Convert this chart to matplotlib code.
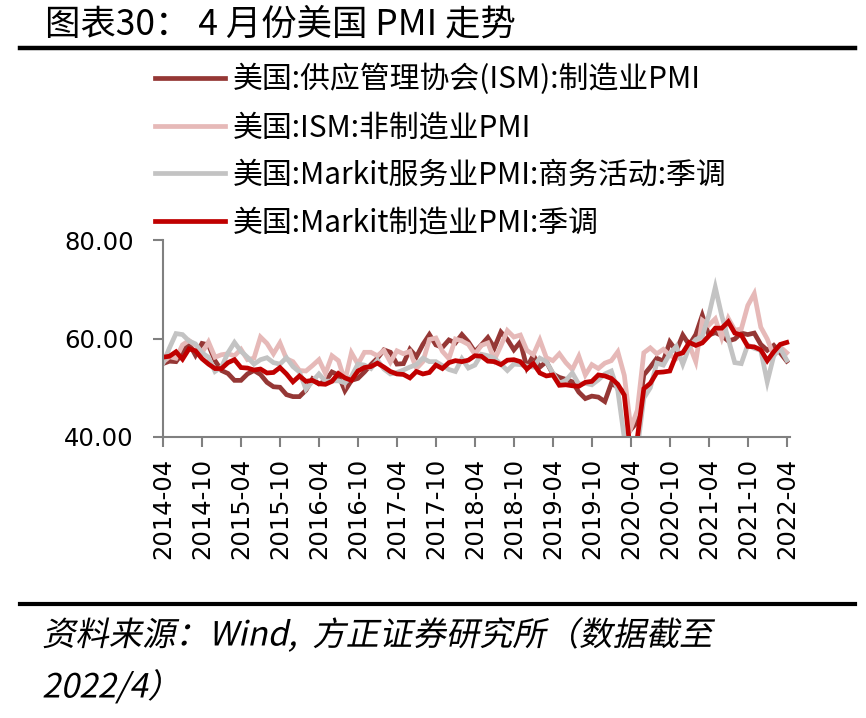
import matplotlib
matplotlib.use('Agg')
import matplotlib.pyplot as plt
from matplotlib.lines import Line2D
from matplotlib.patheffects import AbstractPathEffect
from matplotlib.transforms import Affine2D

plt.rcParams['font.family'] = ['Noto Sans CJK SC', 'DejaVu Sans']

# monthly, 2014-04 .. 2022-04
start_year, start_month = 2014, 4
ism_mfg = [
    54.9, 55.4, 55.3, 57.1, 59.0, 56.6, 59.0, 58.7, 55.5,
    53.5, 52.9, 51.5, 51.5, 52.8, 53.5, 52.7, 51.1, 50.2, 50.1, 48.6, 48.2,
    48.2, 49.5, 51.8, 50.8, 51.3, 53.2, 52.6, 49.4, 51.5, 51.9, 53.2, 54.7,
    56.0, 57.7, 57.2, 54.8, 54.9, 57.8, 56.3, 58.8, 60.8, 58.7, 58.2, 59.7,
    59.1, 60.8, 59.3, 57.3, 58.7, 60.2, 58.1, 61.3, 59.8, 57.7, 59.3, 54.1,
    56.6, 54.2, 55.3, 52.8, 52.1, 51.7, 51.2, 49.1, 47.8, 48.3, 48.1, 47.2,
    50.9, 50.1, 49.1, 41.5, 43.1, 52.6, 54.2, 56.0, 55.4, 59.3, 57.5, 60.7,
    58.7, 60.8, 64.7, 60.7, 61.2, 60.6, 59.5, 59.9, 61.1, 60.8, 61.1, 58.8,
    57.6, 58.6, 57.1, 55.4,
]
ism_nonmfg = [
    55.2, 56.3, 56.0, 58.7, 59.6, 58.6, 57.1, 59.3, 56.2,
    56.7, 56.9, 56.5, 57.8, 55.7, 56.0, 60.3, 59.0, 56.9, 59.1, 55.9, 55.3,
    53.5, 53.4, 54.5, 55.7, 52.9, 56.5, 55.5, 51.4, 57.1, 54.8, 57.2, 57.2,
    56.5, 57.6, 55.2, 57.5, 56.9, 57.4, 53.9, 55.3, 59.8, 60.1, 57.4, 55.9,
    59.9, 59.5, 58.8, 56.8, 58.6, 59.1, 55.7, 58.5, 61.6, 60.3, 60.7, 57.6,
    56.7, 59.7, 56.1, 55.5, 56.9, 55.1, 53.7, 56.4, 52.6, 54.7, 53.9, 55.0,
    55.5, 57.3, 52.5, 41.8, 45.4, 57.1, 58.1, 56.9, 57.8, 56.6, 55.9, 57.2,
    58.7, 55.3, 63.7, 62.7, 64.0, 60.1, 64.1, 61.7, 61.9, 66.7, 69.1, 62.3,
    59.9, 56.5, 58.3, 57.1,
]
markit_services = [
    55.0, 58.1, 61.0, 60.8, 59.5, 58.9, 57.1, 56.2, 53.3,
    54.2, 57.1, 59.2, 57.4, 56.2, 54.8, 55.7, 56.1, 55.1, 54.8, 56.1, 54.3,
    53.2, 49.7, 51.3, 52.8, 51.3, 51.4, 51.4, 51.0, 52.3, 54.8, 54.6, 53.9,
    55.6, 53.8, 52.8, 53.1, 53.6, 54.2, 54.7, 56.0, 55.3, 55.3, 54.5, 53.7,
    53.3, 55.9, 54.0, 54.6, 56.8, 56.5, 56.0, 54.8, 53.5, 54.8, 54.7, 54.4,
    54.2, 56.0, 55.3, 53.0, 50.9, 51.5, 53.0, 50.7, 50.9, 50.6, 51.6, 52.8,
    53.4, 49.4, 39.8, 26.7, 37.5, 47.9, 50.0, 55.0, 54.6, 56.9, 58.4, 54.8,
    58.3, 59.8, 60.4, 64.7, 70.4, 64.6, 59.9, 55.1, 54.9, 58.7, 58.0, 57.6,
    51.2, 56.5, 58.0, 55.6,
]
markit_mfg = [
    56.2, 56.4, 57.3, 55.8, 57.9, 57.5, 55.9, 54.8, 53.9,
    53.9, 55.1, 55.7, 54.1, 54.0, 53.6, 53.8, 53.0, 53.1, 54.1, 52.8, 51.2,
    52.4, 51.3, 51.5, 50.8, 50.7, 51.3, 52.9, 52.0, 51.5, 53.4, 54.1, 54.3,
    55.0, 54.2, 53.3, 52.8, 52.7, 52.0, 53.3, 52.8, 53.1, 54.6, 53.9, 55.1,
    55.5, 55.3, 55.6, 56.5, 56.4, 55.4, 55.3, 54.7, 55.6, 55.7, 55.3, 53.8,
    54.9, 53.0, 52.4, 52.6, 50.5, 50.6, 50.4, 50.3, 51.1, 51.3, 52.6, 52.4,
    51.9, 50.7, 48.5, 36.1, 39.8, 49.8, 50.9, 53.1, 53.2, 53.4, 56.7, 57.1,
    59.2, 58.6, 59.1, 60.5, 62.1, 62.1, 63.4, 61.1, 60.7, 58.4, 58.3, 57.7,
    55.5, 57.3, 58.8, 59.2,
]
labels = [
    '美国:供应管理协会(ISM):制造业PMI',
    '美国:ISM:非制造业PMI',
    '美国:Markit服务业PMI:商务活动:季调',
    '美国:Markit制造业PMI:季调',
]
colors = ['#953735', '#E6B9B8', '#C3C3C3', '#C00000']

n = len(ism_mfg)
months = []
for i in range(n):
    m = start_month - 1 + i
    months.append('%d-%02d' % (start_year + m // 12, m % 12 + 1))
x = list(range(n))


class Skew(AbstractPathEffect):
    """fake italic: shear the glyph paths"""
    def draw_path(self, renderer, gc, tpath, affine, rgbFace=None):
        renderer.draw_path(gc, tpath, Affine2D().skew_deg(12, 0) + affine, rgbFace)


W, H = 866, 718
fig = plt.figure(figsize=(W / 100, H / 100), dpi=100)
ax = fig.add_axes([163 / W, 1 - 437 / H, (790 - 163) / W, (437 - 240) / H])

handles = []
for series, lab, c in zip([ism_mfg, ism_nonmfg, markit_services, markit_mfg], labels, colors):
    h, = ax.plot(x, series, color=c, lw=3.4, label=lab, solid_joinstyle='miter')
    handles.append(h)

ax.set_xlim(0, n - 0.5)
ax.set_ylim(40, 80)
ax.set_yticks([40, 60, 80])
ax.set_yticklabels(['%.2f' % v for v in [40, 60, 80]], fontsize=17.5, family='DejaVu Sans')
ax.set_xticks(x[::6])
ax.set_xticklabels(months[::6], rotation=90, fontsize=17.5, family='DejaVu Sans')
for s in ['top', 'right']:
    ax.spines[s].set_visible(False)
for s in ['left', 'bottom']:
    ax.spines[s].set_color('#808080')
    ax.spines[s].set_linewidth(1.5)
ax.tick_params(axis='both', color='#808080', width=1.5, length=7)
ax.tick_params(axis='y', pad=14)
ax.tick_params(axis='x', pad=8)

fig.legend(handles=handles, loc='upper left', bbox_to_anchor=(155 / W, 1 - 64 / H),
           frameon=False, fontsize=21.5, handlelength=2.35, handletextpad=0.25,
           labelspacing=0.56, borderpad=0, borderaxespad=0)

fig.text(45 / W, 1 - 24 / H, '图表30： 4 月份美国 PMI 走势', fontsize=25.5, va='center', ha='left')
fig.add_artist(Line2D([20 / W, 855 / W], [1 - 48 / H] * 2, color='black', lw=3.2,
                      transform=fig.transFigure))
fig.add_artist(Line2D([20 / W, 855 / W], [1 - 604 / H] * 2, color='black', lw=3.0,
                      transform=fig.transFigure))
fig.text(42 / W, 1 - 636 / H, '资料来源：Wind,  方正证券研究所（数据截至', fontsize=24,
         va='center', ha='left', path_effects=[Skew()])
fig.text(42 / W, 1 - 688 / H, '2022/4）', fontsize=24, va='center', ha='left',
         path_effects=[Skew()])

fig.savefig('out.png', dpi=100)
